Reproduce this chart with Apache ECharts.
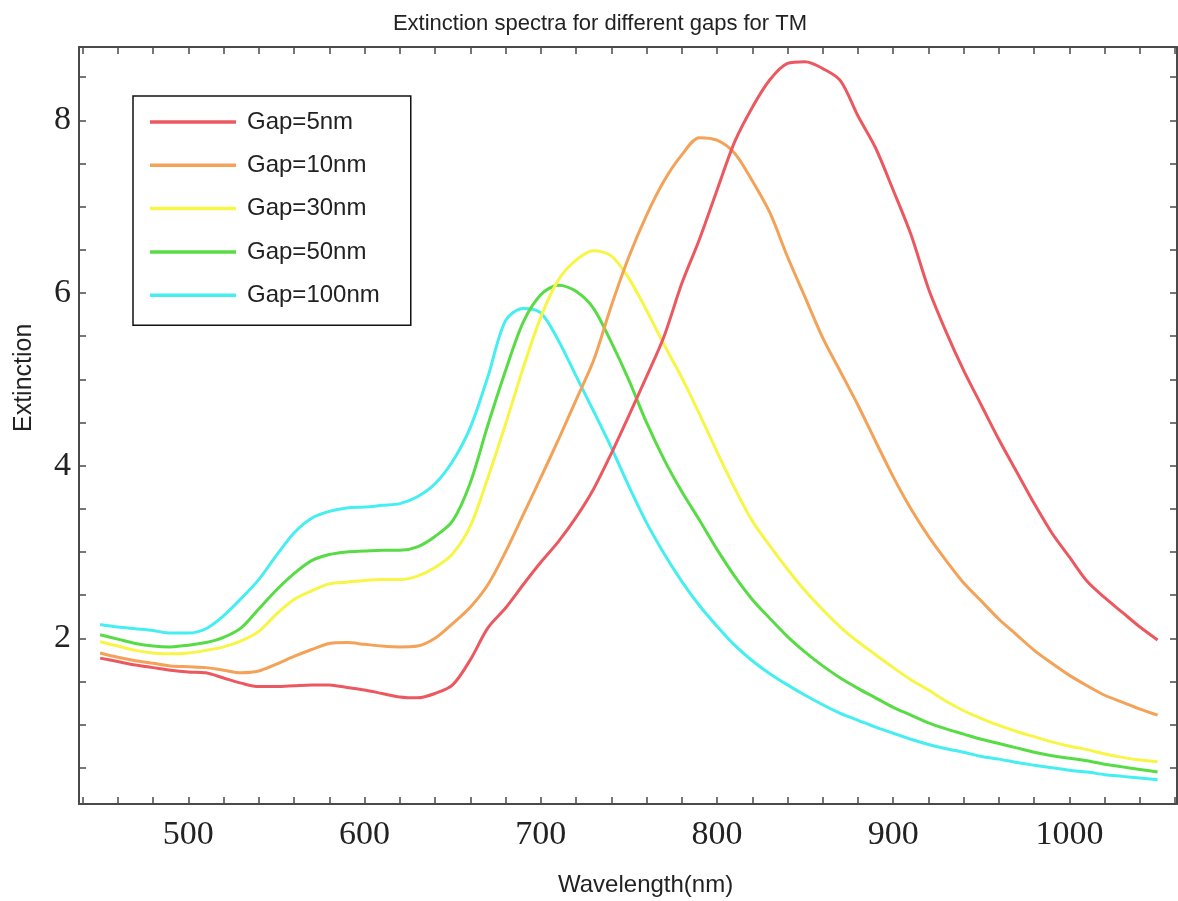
<!DOCTYPE html>
<html>
<head>
<meta charset="utf-8">
<script src="https://cdn.jsdelivr.net/npm/echarts@6/dist/echarts.min.js"></script>
<style>
html, body { margin: 0; padding: 0; background: #fff; }
#chart { width: 1178px; height: 901px; }
</style>
</head>
<body>
<div id="chart"></div>
<script>
// wavelength (nm), every 10 nm
var wavelength = [];
for (var w = 450; w <= 1050; w += 10) wavelength.push(w);

var gap5 = [1.77,1.73,1.69,1.66,1.63,1.61,1.60,1.54,1.48,1.44,1.44,1.45,1.46,1.46,1.43,1.40,1.36,1.32,1.31,1.36,
	1.46,1.75,2.12,2.35,2.62,2.88,3.12,3.40,3.73,4.14,4.58,5.03,5.50,6.11,6.62,7.19,7.75,8.15,8.47,8.66,
	8.68,8.60,8.46,8.05,7.68,7.19,6.68,6.05,5.55,5.10,4.70,4.30,3.93,3.56,3.22,2.94,2.66,2.47,2.30,2.13,1.98];
var gap10 = [1.83,1.78,1.74,1.71,1.68,1.67,1.66,1.63,1.60,1.62,1.70,1.79,1.87,1.94,1.95,1.93,1.91,1.90,1.91,2.00,
	2.17,2.36,2.62,3.00,3.43,3.86,4.30,4.76,5.22,5.85,6.42,6.90,7.30,7.60,7.80,7.77,7.62,7.30,6.93,6.42,
	5.95,5.48,5.09,4.70,4.28,3.87,3.50,3.18,2.90,2.64,2.43,2.22,2.04,1.86,1.71,1.57,1.45,1.34,1.26,1.18,1.11];
var gap30 = [1.96,1.91,1.86,1.83,1.82,1.83,1.86,1.90,1.97,2.08,2.28,2.45,2.55,2.63,2.65,2.67,2.68,2.68,2.72,2.82,
	2.98,3.30,3.86,4.48,5.13,5.72,6.15,6.38,6.49,6.43,6.17,5.80,5.40,5.02,4.60,4.16,3.74,3.36,3.07,2.80,
	2.55,2.33,2.13,1.96,1.81,1.66,1.52,1.40,1.27,1.16,1.07,0.99,0.92,0.86,0.80,0.75,0.71,0.66,0.62,0.59,0.57];
var gap50 = [2.04,1.99,1.94,1.91,1.90,1.92,1.95,2.01,2.12,2.34,2.56,2.75,2.90,2.97,3.00,3.01,3.02,3.02,3.06,3.18,
	3.36,3.80,4.47,5.10,5.66,5.98,6.09,6.02,5.82,5.43,4.99,4.50,4.07,3.70,3.37,3.03,2.72,2.45,2.23,2.02,
	1.84,1.68,1.54,1.42,1.31,1.20,1.11,1.02,0.95,0.89,0.83,0.78,0.73,0.68,0.64,0.61,0.58,0.54,0.51,0.48,0.45];
var gap100 = [2.16,2.13,2.11,2.09,2.06,2.06,2.11,2.26,2.46,2.68,2.96,3.22,3.39,3.47,3.51,3.52,3.54,3.56,3.64,3.79,
	4.05,4.44,5.03,5.68,5.82,5.77,5.45,5.04,4.63,4.21,3.76,3.34,2.98,2.66,2.38,2.14,1.92,1.74,1.59,1.46,
	1.34,1.23,1.13,1.05,0.97,0.90,0.83,0.77,0.72,0.68,0.63,0.60,0.56,0.53,0.50,0.47,0.45,0.42,0.40,0.38,0.36];

var names = ['Gap=5nm', 'Gap=10nm', 'Gap=30nm', 'Gap=50nm', 'Gap=100nm'];
var colors = ['#ec5860', '#f3a257', '#f7f545', '#58dc45', '#45eef0'];
var values = [gap5, gap10, gap30, gap50, gap100];

var xTicks = [];
for (var t = 440; t <= 1060; t += 20) xTicks.push(t);
var xLabels = [500, 600, 700, 800, 900, 1000];
var yTicks = [];
for (var v = 0.5; v <= 8.5; v += 0.5) yTicks.push(v);
var yLabels = [2, 4, 6, 8];

var myChart = echarts.init(document.getElementById('chart'));

var axisColor = '#4a4a4a';
function frameAxis(pos, isX, showLabel) {
	var a = {
		type: 'value',
		position: pos,
		min: isX ? 438 : 0.08,
		max: isX ? 1061 : 8.85,
		axisLine: { show: true, lineStyle: { color: axisColor, width: 2 } },
		axisTick: { show: true, inside: true, length: 7, customValues: isX ? xTicks : yTicks, lineStyle: { color: axisColor, width: 1.5 } },
		axisLabel: {
			show: showLabel,
			customValues: isX ? xLabels : yLabels,
			formatter: function (val) { return String(val); },
			fontFamily: 'Liberation Serif', fontSize: 34, color: '#222',
			margin: isX ? 14 : 8
		},
		splitLine: { show: false }
	};
	return a;
}

var series = [];
for (var i = 0; i < names.length; i++) {
	var d = [];
	for (var j = 0; j < wavelength.length; j++) d.push([wavelength[j], values[i][j]]);
	series.push({
		name: names[i],
		type: 'line',
		data: d,
		smooth: 0.3,
		showSymbol: false,
		symbol: 'none',
		lineStyle: { color: colors[i], width: 3 },
		itemStyle: { color: colors[i] },
		z: 10 - i
	});
}

var option = {
	backgroundColor: '#fff',
	animation: false,
	title: {
		text: 'Extinction spectra for different gaps for TM',
		left: 595,
		textAlign: 'center',
		top: 8,
		textStyle: { fontFamily: 'Liberation Sans', fontSize: 22, fontWeight: 'normal', color: '#222' }
	},
	grid: { left: 79, right: 1, top: 47, bottom: 97, containLabel: false },
	legend: {
		orient: 'vertical',
		left: 133,
		top: 96,
		data: names,
		icon: 'rect',
		itemWidth: 86,
		itemHeight: 3.5,
		itemGap: 19.3,
		padding: [14, 31, 18, 17],
		borderColor: '#111',
		borderWidth: 1.5,
		backgroundColor: '#fff',
		textStyle: { fontFamily: 'Liberation Sans', fontSize: 24, lineHeight: 24, color: '#222', padding: [0, 0, 0, 6] }
	},
	xAxis: [frameAxis('bottom', true, true), frameAxis('top', true, false)],
	yAxis: [frameAxis('left', false, true), frameAxis('right', false, false)],
	graphic: [
		{ type: 'text', left: 558, top: 873, style: { text: 'Wavelength(nm)', font: '24px "Liberation Sans"', fill: '#222' } },
		{ type: 'text', x: 12, y: 432, rotation: Math.PI / 2, style: { text: 'Extinction', font: '25px "Liberation Sans"', fill: '#222' } }
	],
	series: series
};

myChart.setOption(option);
</script>
</body>
</html>
